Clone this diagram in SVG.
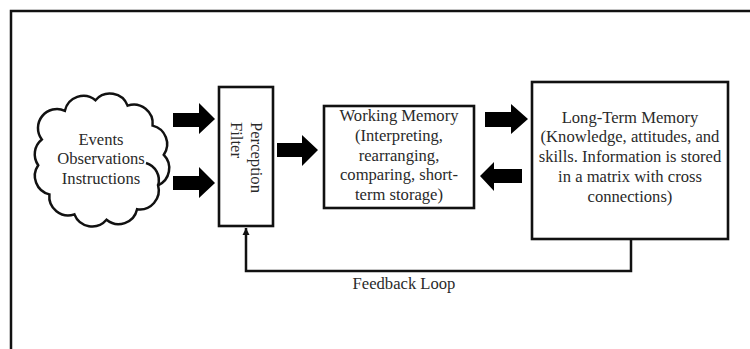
<svg xmlns="http://www.w3.org/2000/svg" width="750" height="349" viewBox="0 0 750 349">
<style>
.t{font-family:"Liberation Serif","Times New Roman",serif;font-size:16.6px;fill:#2a2a2a}
.c{text-anchor:middle}
.box{fill:#fff;stroke:#111;stroke-width:2.6}
.ln{fill:none;stroke:#111;stroke-width:2.5}
.ar{fill:#000}
</style>
<defs>
<marker id="tip" markerWidth="8" markerHeight="8" refX="7" refY="4" orient="auto" markerUnits="userSpaceOnUse">
<path d="M0,0.5 L7,4 L0,7.5 Z" fill="#111"/>
</marker>
</defs>
<rect width="750" height="349" fill="#fff"/>
<path class="ln" d="M11,349 V11 H750"/>
<g id="cloud">
<path class="ln" d="M41.8,139.5 A19,19 0 0 1 64.9,110.8 A19,19 0 0 1 95.5,100.2 A19,19 0 0 1 127.6,105.6 A19,19 0 0 1 152.6,125.6 A19,19 0 0 1 163.8,154.8 A19,19 0 0 1 158.1,185.4 A19,19 0 0 1 137.1,209.2 A19,19 0 0 1 106.5,219.8 A19,19 0 0 1 74.4,214.4 A19,19 0 0 1 49.4,194.4 A19,19 0 0 1 38.2,165.2 A19,19 0 0 1 41.8,139.5 Z"/>
<path class="ln" d="M146,163 A18,18 0 0 1 158.1,185.4"/>
<text class="t c" x="101" y="144.5">Events</text>
<text class="t c" x="101" y="164">Observations</text>
<text class="t c" x="101" y="183.5">Instructions</text>
</g>
<g id="filter">
<rect class="box" x="219" y="87" width="54" height="139"/>
<text class="t" transform="translate(251,122) rotate(90)">Perception</text>
<text class="t" transform="translate(231,122) rotate(90)">Filter</text>
</g>
<g id="working-memory">
<rect class="box" x="324" y="106" width="150" height="102" stroke-width="3"/>
<text class="t c" x="399" y="121">Working Memory</text>
<text class="t c" x="399" y="141">(Interpreting,</text>
<text class="t c" x="399" y="160.5">rearranging,</text>
<text class="t c" x="399" y="180">comparing, short-</text>
<text class="t c" x="399" y="200">term storage)</text>
</g>
<g id="long-term-memory">
<rect class="box" x="532" y="82" width="196" height="157" stroke-width="3"/>
<text class="t c" x="630" y="122.5">Long-Term Memory</text>
<text class="t c" x="630" y="142.3">(Knowledge, attitudes, and</text>
<text class="t c" x="630" y="162">skills. Information is stored</text>
<text class="t c" x="630" y="182">in a matrix with cross</text>
<text class="t c" x="630" y="201.7">connections)</text>
</g>
<g id="connectors">
<polygon class="ar" points="173,113 199,113 199,103 215,119 199,134 199,127 173,127"/>
<polygon class="ar" points="173,176 199,176 199,167 215,183 199,198 199,190 173,190"/>
<polygon class="ar" points="277,143 302,143 302,135 318,150 302,166 302,157 277,157"/>
<polygon class="ar" points="485,112 511,112 511,104 528,119 511,134 511,127 485,127"/>
<polygon class="ar" points="522,169 494,169 494,162 480,176 494,191 494,183 522,183"/>
<path class="ln" d="M631,239 V271 H246 V228" marker-end="url(#tip)"/>
<text class="t c" x="404" y="289">Feedback Loop</text>
</g>
</svg>
